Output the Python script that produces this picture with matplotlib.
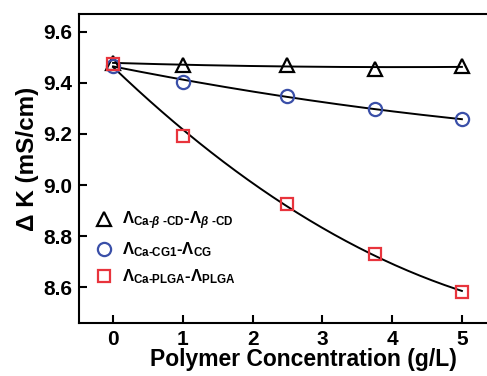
import numpy as np
import matplotlib
matplotlib.use("Agg")
import matplotlib.pyplot as plt

plt.rcParams['font.family'] = ['Liberation Sans', 'DejaVu Sans']
plt.rcParams['font.weight'] = 'bold'
plt.rcParams['mathtext.fontset'] = 'custom'
plt.rcParams['mathtext.rm'] = 'Liberation Sans'
plt.rcParams['mathtext.bf'] = 'Liberation Sans:bold'
plt.rcParams['mathtext.it'] = 'Liberation Sans:italic'

conc = [0, 1, 2.5, 3.75, 5]
k_cd = [9.478, 9.470, 9.470, 9.455, 9.465]
k_cg = [9.468, 9.405, 9.350, 9.297, 9.257]
k_plga = [9.475, 9.192, 8.927, 8.730, 8.580]

labels = [r'$\Lambda_{\mathbf{Ca}\text{-}\beta\ \text{-}\mathbf{CD}}$-$\Lambda_{\beta\ \text{-}\mathbf{CD}}$',
          r'$\Lambda_{\mathbf{Ca}\text{-}\mathbf{CG1}}$-$\Lambda_{\mathbf{CG}}$',
          r'$\Lambda_{\mathbf{Ca}\text{-}\mathbf{PLGA}}$-$\Lambda_{\mathbf{PLGA}}$']

fig = plt.figure(figsize=(4.87, 3.76), dpi=100)
ax = fig.add_axes([0.162, 0.141, 0.838, 0.822])

# smooth fits through each series
xs = np.linspace(0, 5, 200)
for ys in [k_cd, k_cg, k_plga]:
    fit = np.poly1d(np.polyfit(conc, ys, 2))
    ax.plot(xs, fit(xs), color='black', lw=1.4, zorder=2)

ax.plot(conc, k_cd, '^', ms=9.5, mfc='none', mec='black', mew=1.6, ls='none', label=labels[0], zorder=3)
ax.plot(conc, k_cg, 'o', ms=9.5, mfc='none', mec='#3a4fa8', mew=1.6, ls='none', label=labels[1], zorder=3)
ax.plot(conc, k_plga, 's', ms=8.5, mfc='none', mec='#e8343c', mew=1.6, ls='none', label=labels[2], zorder=3)

ax.set_xlim(-0.49, 5.36)
ax.set_ylim(8.46, 9.67)
ax.set_xticks([0, 1, 2, 3, 4, 5])
ax.set_yticks([8.6, 8.8, 9.0, 9.2, 9.4, 9.6])
ax.set_yticklabels(['8.6', '8.8', '9.0', '9.2', '9.4', '9.6'])
ax.tick_params(direction='in', length=6, width=1.5, labelsize=15, pad=5)
for s in ['left', 'bottom', 'top']:
    ax.spines[s].set_linewidth(1.5)
ax.spines['right'].set_visible(False)

ax.set_xlabel('Polymer Concentration (g/L)', fontsize=16.5, fontweight='bold', labelpad=-1)
ax.set_ylabel('Δ K (mS/cm)', fontsize=17.5, fontweight='bold', labelpad=3)
ax.xaxis.label.set_x(0.55)
ax.yaxis.label.set_y(0.53)

ax.legend(loc='lower left', bbox_to_anchor=(0.0, 0.07), frameon=False, fontsize=12,
          handletextpad=0.5, labelspacing=0.5, handlelength=1.2)

fig.savefig('out.png', dpi=100)
